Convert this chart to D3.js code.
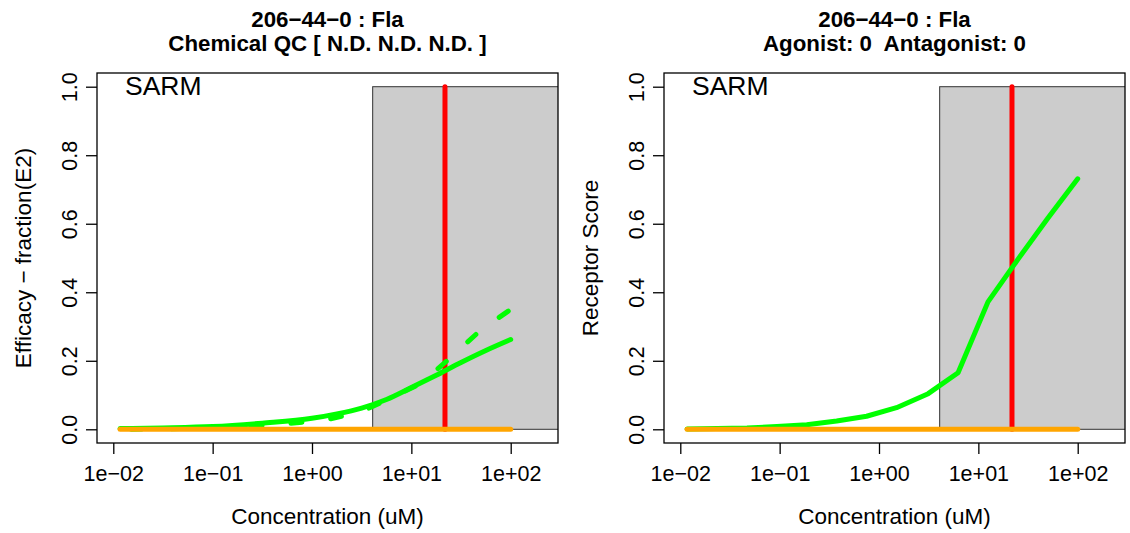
<!DOCTYPE html>
<html lang="en">
<head>
<meta charset="utf-8">
<script src="https://d3js.org/d3.v7.min.js"></script>
<style>
  body { margin: 0; background: #fff; }
  text { font-family: "Liberation Sans", Arial, Helvetica, sans-serif; fill: #000; white-space: pre; }
</style>
</head>
<body>
<svg id="chart" width="1130" height="533"></svg>
<script>
// ---- data ----
const testConc = [0.0117, 0.0234, 0.0469, 0.0938, 0.1875, 0.375, 0.75, 1.5, 3.125, 6.25, 12.5, 25, 50, 100];
const efficacyObs = [0.0, 0.001, 0.002, 0.004, 0.007, 0.012, 0.02, 0.03, 0.051, 0.092, 0.134, 0.21, 0.29, 0.35];
const fitConc = [0.0117, 0.0316, 0.1, 0.316, 1, 1.78, 3.16, 5.62, 10, 17.8, 31.6, 56.2, 100];
const efficacyFit = [0.002, 0.004, 0.008, 0.018, 0.032, 0.045, 0.062, 0.087, 0.122, 0.158, 0.195, 0.23, 0.262];
const receptorScore = [0.001, 0.002, 0.004, 0.008, 0.013, 0.024, 0.038, 0.063, 0.104, 0.165, 0.372, 0.496, 0.616, 0.731];
const antagonistScore = [0, 0, 0, 0, 0, 0, 0, 0, 0, 0, 0, 0, 0, 0];
const ac50 = 21.8;
const cytoWindow = [4.08, 1000];
const xTicks = [0.01, 0.1, 1, 10, 100];
const xTickLabels = ["1e\u221202", "1e\u221201", "1e+00", "1e+01", "1e+02"];
const yTicks = [0, 0.2, 0.4, 0.6, 0.8, 1.0];
const yTickLabels = ["0.0", "0.2", "0.4", "0.6", "0.8", "1.0"];

const panels = [
  { left: 97, title: ["206\u221244\u22120 : Fla", "Chemical QC [ N.D. N.D. N.D. ]"],
    ylab: "Efficacy \u2212 fraction(E2)", fit: efficacyFit, dashed: efficacyObs },
  { left: 664, title: ["206\u221244\u22120 : Fla", "Agonist: 0  Antagonist: 0"],
    ylab: "Receptor Score", fit: null, dashed: null, line: receptorScore }
];

const svg = d3.select("#chart");
const W = 461, boxTop = 73, boxBottom = 443;

panels.forEach((p, i) => {
  const x = d3.scaleLog().domain([Math.pow(10, -2.164), Math.pow(10, 2.476)]).range([p.left, p.left + W]);
  const y = d3.scaleLinear().domain([-0.04, 1.04]).range([boxBottom, boxTop]);
  const g = svg.append("g");

  const clipId = "clip" + i;
  g.append("clipPath").attr("id", clipId).append("rect")
    .attr("x", p.left).attr("y", boxTop).attr("width", W).attr("height", boxBottom - boxTop);
  const plot = g.append("g").attr("clip-path", `url(#${clipId})`);

  // cytotoxicity window
  plot.append("rect")
    .attr("x", x(cytoWindow[0])).attr("y", y(1))
    .attr("width", x(cytoWindow[1]) - x(cytoWindow[0]))
    .attr("height", y(0) - y(1))
    .attr("fill", "#cccccc").attr("stroke", "#333").attr("stroke-width", 1);

  // AC50 marker
  plot.append("line")
    .attr("x1", x(ac50)).attr("x2", x(ac50)).attr("y1", y(0)).attr("y2", y(1))
    .attr("stroke", "#ff0000").attr("stroke-width", 5).attr("stroke-linecap", "round");

  const line = d3.line().x(d => x(d[0])).y(d => y(d[1]));

  if (p.dashed) {
    const dp = plot.append("path").datum(d3.zip(testConc, p.dashed)).attr("d", line)
      .attr("fill", "none").attr("stroke", "#00ff00").attr("stroke-width", 5)
      .attr("stroke-linecap", "round").attr("stroke-dasharray", "11,29");
    // phase the dashes so one ends right at the last point
    const L = dp.node().getTotalLength();
    dp.attr("stroke-dashoffset", ((11 - (L - 3)) % 40 + 40) % 40);
  }
  if (p.fit) {
    plot.append("path").datum(d3.zip(fitConc, p.fit)).attr("d", d3.line().curve(d3.curveMonotoneX).x(d => x(d[0])).y(d => y(d[1])))
      .attr("fill", "none").attr("stroke", "#00ff00").attr("stroke-width", 5)
      .attr("stroke-linecap", "round");
  }
  if (p.line) {
    plot.append("path").datum(d3.zip(testConc, p.line)).attr("d", line)
      .attr("fill", "none").attr("stroke", "#00ff00").attr("stroke-width", 5)
      .attr("stroke-linecap", "round").attr("stroke-linejoin", "round");
  }
  plot.append("path").datum(d3.zip(testConc, antagonistScore)).attr("d", line)
    .attr("fill", "none").attr("stroke", "#ffa500").attr("stroke-width", 5)
    .attr("stroke-linecap", "round");

  // box
  g.append("rect").attr("x", p.left).attr("y", boxTop).attr("width", W).attr("height", boxBottom - boxTop)
    .attr("fill", "none").attr("stroke", "#000").attr("stroke-width", 1.3);

  // axes
  const xAxis = d3.axisBottom(x).tickValues(xTicks).tickFormat((d, k) => xTickLabels[k])
    .tickSize(11).tickPadding(12);
  const xg = g.append("g").attr("transform", `translate(0,${boxBottom})`).call(xAxis);
  xg.select(".domain").remove();
  xg.selectAll("line").attr("stroke-width", 1.3);
  xg.selectAll("text").attr("font-size", 21.5).attr("font-family", "Liberation Sans, Arial, sans-serif");

  const yAxis = d3.axisLeft(y).tickValues(yTicks).tickFormat((d, k) => yTickLabels[k]).tickSize(11);
  const yg = g.append("g").attr("transform", `translate(${p.left},0)`).call(yAxis);
  yg.select(".domain").remove();
  yg.selectAll("line").attr("stroke-width", 1.3);
  yg.selectAll("text").remove();
  yg.selectAll(".tick").append("text")
    .attr("transform", "translate(-20,0) rotate(-90)")
    .attr("text-anchor", "middle").attr("font-size", 21.5)
    .text((d, k) => yTickLabels[k]);

  // labels
  g.append("text").attr("x", p.left + W / 2).attr("y", 524).attr("text-anchor", "middle")
    .attr("font-size", 22.5).text("Concentration (uM)");
  g.append("text").attr("transform", `translate(${p.left - 66},${(boxTop + boxBottom) / 2}) rotate(-90)`)
    .attr("text-anchor", "middle").attr("font-size", 22.5).text(p.ylab);
  g.append("text").attr("x", p.left + 28).attr("y", 95).attr("font-size", 26.5).text("SARM");

  p.title.forEach((t, k) => {
    g.append("text").attr("x", p.left + W / 2).attr("y", 26.5 + k * 24).attr("text-anchor", "middle")
      .attr("font-size", 22.3).attr("font-weight", "bold").text(t);
  });
});
</script>
</body>
</html>
